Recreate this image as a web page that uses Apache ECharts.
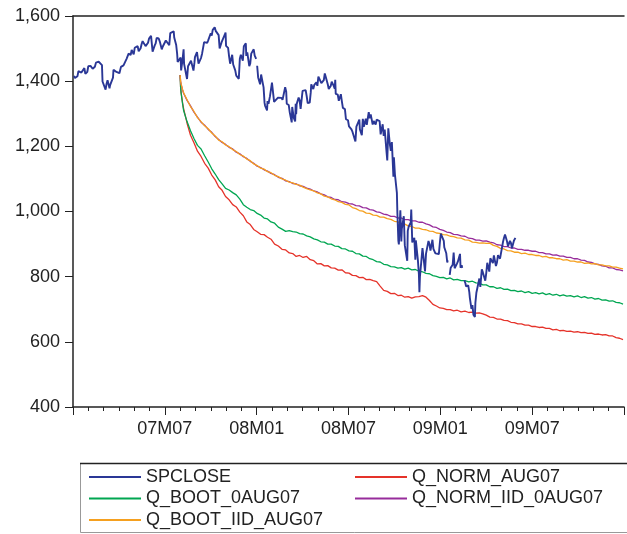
<!DOCTYPE html>
<html><head><meta charset="utf-8">
<script src="https://cdn.jsdelivr.net/npm/echarts@6/dist/echarts.min.js"></script>
<style>html,body{margin:0;padding:0;background:#fff}#c{width:627px;height:534px}</style>
</head><body><div id="c"></div><script>
// ---------------- DATA ----------------
const spDates = [
'2007-01-03','2007-01-05','2007-01-08','2007-01-10','2007-01-12','2007-01-16','2007-01-18','2007-01-22','2007-01-24','2007-01-26','2007-01-30',
'2007-02-01','2007-02-05','2007-02-07','2007-02-09','2007-02-13','2007-02-15','2007-02-20','2007-02-22','2007-02-26','2007-02-27',
'2007-03-01','2007-03-05','2007-03-07','2007-03-09','2007-03-13','2007-03-14','2007-03-16','2007-03-20','2007-03-21','2007-03-23','2007-03-27','2007-03-29',
'2007-04-02','2007-04-05','2007-04-10','2007-04-12','2007-04-16','2007-04-18','2007-04-20','2007-04-24','2007-04-26','2007-04-30',
'2007-05-02','2007-05-04','2007-05-08','2007-05-10','2007-05-14','2007-05-16','2007-05-18','2007-05-22','2007-05-24','2007-05-29','2007-05-31',
'2007-06-04','2007-06-07','2007-06-11','2007-06-13','2007-06-15','2007-06-19','2007-06-21','2007-06-25','2007-06-27','2007-06-29',
'2007-07-03','2007-07-06','2007-07-10','2007-07-12','2007-07-16','2007-07-19','2007-07-20','2007-07-24','2007-07-26','2007-07-27','2007-07-31',
'2007-08-02','2007-08-03','2007-08-06','2007-08-08','2007-08-09','2007-08-13','2007-08-15','2007-08-16','2007-08-17','2007-08-21','2007-08-23','2007-08-27','2007-08-28','2007-08-30','2007-08-31',
'2007-09-04','2007-09-07','2007-09-10','2007-09-12','2007-09-14','2007-09-18','2007-09-20','2007-09-24','2007-09-26','2007-09-28',
'2007-10-01','2007-10-03','2007-10-05','2007-10-09','2007-10-11','2007-10-15','2007-10-17','2007-10-19','2007-10-23','2007-10-25','2007-10-29','2007-10-31',
'2007-11-01','2007-11-05','2007-11-07','2007-11-09','2007-11-13','2007-11-15','2007-11-19','2007-11-21','2007-11-26','2007-11-28','2007-11-30',
'2007-12-04','2007-12-06','2007-12-10','2007-12-11','2007-12-13','2007-12-17','2007-12-19','2007-12-21','2007-12-26','2007-12-28','2007-12-31',
'2008-01-01','2008-01-02','2008-01-04','2008-01-08','2008-01-10','2008-01-14','2008-01-15','2008-01-17','2008-01-18','2008-01-22','2008-01-23','2008-01-25','2008-01-28','2008-01-30',
'2008-02-01','2008-02-05','2008-02-07','2008-02-08','2008-02-12','2008-02-14','2008-02-19','2008-02-21','2008-02-26','2008-02-28','2008-02-29',
'2008-03-04','2008-03-06','2008-03-10','2008-03-11','2008-03-13','2008-03-14','2008-03-17','2008-03-18','2008-03-19','2008-03-20','2008-03-24','2008-03-26','2008-03-28',
'2008-04-01','2008-04-03','2008-04-07','2008-04-09','2008-04-11','2008-04-15','2008-04-17','2008-04-18','2008-04-22','2008-04-24','2008-04-28','2008-04-30',
'2008-05-02','2008-05-06','2008-05-08','2008-05-09','2008-05-13','2008-05-15','2008-05-19','2008-05-21','2008-05-23','2008-05-27','2008-05-29',
'2008-06-02','2008-06-04','2008-06-05','2008-06-06','2008-06-10','2008-06-12','2008-06-16','2008-06-18','2008-06-20','2008-06-24','2008-06-26','2008-06-30',
'2008-07-02','2008-07-07','2008-07-09','2008-07-11','2008-07-15','2008-07-17','2008-07-21','2008-07-23','2008-07-24','2008-07-28','2008-07-30',
'2008-08-01','2008-08-05','2008-08-07','2008-08-11','2008-08-13','2008-08-15','2008-08-19','2008-08-21','2008-08-25','2008-08-27','2008-08-29',
'2008-09-02','2008-09-04','2008-09-08','2008-09-10','2008-09-12','2008-09-15','2008-09-17','2008-09-19','2008-09-22','2008-09-24','2008-09-26','2008-09-29','2008-09-30',
'2008-10-02','2008-10-06','2008-10-07','2008-10-09','2008-10-10','2008-10-13','2008-10-15','2008-10-16','2008-10-20','2008-10-22','2008-10-24','2008-10-27','2008-10-28','2008-10-30',
'2008-11-03','2008-11-04','2008-11-06','2008-11-10','2008-11-12','2008-11-13','2008-11-17','2008-11-19','2008-11-20','2008-11-21','2008-11-24','2008-11-26',
'2008-12-01','2008-12-03','2008-12-05','2008-12-08','2008-12-10','2008-12-12','2008-12-16','2008-12-18','2008-12-22','2008-12-26','2008-12-29','2008-12-31',
'2009-01-02','2009-01-06','2009-01-08','2009-01-09','2009-01-13','2009-01-15','2009-01-16','2009-01-19','2009-01-20','2009-01-22','2009-01-26','2009-01-28','2009-01-30',
'2009-02-03','2009-02-05','2009-02-09','2009-02-10','2009-02-12','2009-02-13','2009-02-16','2009-02-17','2009-02-19','2009-02-20','2009-02-24','2009-02-26','2009-02-27',
'2009-03-02','2009-03-04','2009-03-06','2009-03-09','2009-03-10','2009-03-12','2009-03-16','2009-03-18','2009-03-20','2009-03-23','2009-03-25','2009-03-27','2009-03-30',
'2009-04-01','2009-04-03','2009-04-07','2009-04-09','2009-04-14','2009-04-16','2009-04-20','2009-04-22','2009-04-24','2009-04-28','2009-04-30',
'2009-05-04','2009-05-06','2009-05-08','2009-05-12','2009-05-14','2009-05-18','2009-05-20','2009-05-22','2009-05-26','2009-05-28','2009-05-29'
];
const spClose = [
1416.6,1409.7,1412.8,1414.9,1430.7,1431.9,1426.4,1422.9,1440.1,1422.2,1428.8,
1445.9,1447.0,1450.0,1438.1,1444.3,1456.8,1459.7,1456.4,1449.4,1399.0,
1403.2,1374.1,1392.0,1402.8,1378.0,1387.2,1387.0,1410.9,1435.0,1436.1,1428.4,1422.5,
1424.6,1443.8,1448.4,1447.8,1468.5,1471.5,1484.4,1480.4,1495.6,1482.4,
1502.4,1505.6,1507.7,1491.5,1501.2,1514.1,1522.8,1524.1,1507.5,1518.1,1530.6,
1539.2,1490.7,1509.1,1515.7,1532.9,1531.1,1522.2,1497.7,1506.3,1503.4,
1524.9,1530.4,1510.1,1547.7,1549.5,1553.1,1534.1,1511.0,1482.7,1459.0,1455.3,
1472.2,1433.1,1467.7,1497.5,1453.1,1452.9,1406.7,1411.3,1445.9,1447.1,1462.5,1466.8,1432.4,1457.6,1474.0,
1489.4,1453.6,1451.7,1471.6,1484.3,1519.8,1518.8,1517.7,1525.4,1526.8,
1547.0,1539.6,1557.6,1565.2,1554.4,1548.7,1541.2,1500.6,1519.6,1514.4,1541.0,1549.4,
1508.4,1502.2,1475.6,1453.7,1481.1,1451.2,1433.3,1416.8,1407.2,1469.0,1481.1,
1462.8,1507.3,1516.0,1477.7,1488.4,1445.9,1454.7,1484.5,1497.7,1478.5,1468.4,
null,1447.2,1411.6,1390.2,1420.3,1416.3,1381.0,1333.3,1325.2,1310.5,1338.6,1330.6,1354.0,1355.8,
1395.4,1336.6,1336.9,1331.3,1348.9,1348.9,1348.8,1342.5,1381.3,1367.7,1330.6,
1326.8,1304.3,1273.4,1320.7,1315.5,1288.1,1276.6,1330.7,1298.4,1329.5,1349.9,1341.1,1315.2,
1370.2,1369.3,1372.5,1354.5,1332.8,1334.4,1365.6,1390.3,1375.9,1388.8,1396.4,1385.6,
1413.9,1418.0,1394.0,1388.3,1403.0,1423.6,1426.6,1390.7,1375.9,1385.4,1398.3,
1385.7,1377.2,1404.1,1360.7,1358.4,1339.9,1360.1,1337.8,1317.9,1314.3,1283.2,1280.0,
1261.5,1252.3,1244.7,1239.5,1214.9,1260.3,1260.0,1282.2,1252.5,1234.4,1284.3,
1260.3,1284.9,1266.1,1305.3,1285.8,1298.2,1266.7,1277.7,1266.8,1281.7,1282.8,
1277.6,1236.8,1267.8,1232.0,1251.7,1192.7,1156.4,1255.1,1207.1,1185.9,1213.3,1106.4,1166.4,
1114.3,1056.9,996.2,909.9,899.2,1003.4,907.8,946.4,985.4,896.8,876.8,848.9,940.5,954.1,
966.3,1005.8,904.9,919.2,852.3,911.3,850.8,806.6,752.4,800.0,851.8,887.7,
816.2,870.7,876.1,909.7,899.2,879.7,913.2,885.3,871.6,872.8,869.4,903.3,
931.8,934.7,909.7,890.4,871.8,843.7,850.1,null,805.2,827.5,836.6,874.1,825.9,
838.5,845.9,869.9,827.2,835.2,826.8,null,789.2,778.9,770.1,773.1,752.8,735.1,
700.8,712.9,683.4,676.5,719.6,750.7,753.9,794.4,768.5,822.9,813.9,815.9,787.5,
811.1,842.5,815.6,856.6,841.5,865.3,832.4,843.5,866.2,855.2,872.8,
907.2,919.5,929.2,908.4,893.1,909.7,903.5,887.0,910.3,906.8,919.1
];

// forecast dates: first days, then weekly (Wednesdays) from 2007-08-08
const fcFirstDates = ['2007-08-01','2007-08-02','2007-08-03','2007-08-06'];
const fcWeeklyStart = '2007-08-08';
const fcWeeklyCount = 126;

const qNormAug07 = [
1419,1381,1365,1333,
1316,1271,1234,1211,1185,1169,1148,1133,1112,1097,
1076,1065,1046,1036,1021,1014,998,987,968,960,
945,938,930,929,921,915,900,894,884,882,
873,871,862,865,859,862,852,849,839,840,
833,834,827,826,820,821,812,811,804,803,
797,798,791,792,788,785,771,758,755,748,
749,742,743,737,739,734,738,739,742,737,
727,715,710,704,703,699,699,695,697,692,
694,690,691,688,689,686,682,676,675,670,
670,666,665,660,659,655,655,651,651,647,
647,644,645,641,641,637,638,634,635,632,
633,630,631,628,629,626,627,623,624,621,
622,618,618,613,611,607
];
const qBoot0Aug07 = [
1419,1380,1363,1330,
1310,1276,1248,1224,1203,1192,1171,1152,1131,1115,
1098,1085,1071,1066,1058,1051,1038,1021,1013,1006,
1003,994,989,980,977,968,964,952,946,939,
941,938,937,932,931,925,922,916,913,907,
906,900,900,894,893,886,885,879,878,871,
870,863,862,855,852,846,845,838,836,831,
830,826,828,823,826,821,822,817,815,810,
809,803,801,797,798,793,796,790,792,788,
788,784,786,781,780,775,775,769,769,764,
766,761,762,757,758,754,756,751,754,749,
751,747,750,745,748,743,746,741,744,740,
742,738,741,736,739,734,736,731,733,728,
729,725,726,721,720,716
];
const qNormIid0Aug07 = [
1419,1398,1390,1373,
1363,1341,1324,1305,1290,1274,1265,1252,1243,1230,
1221,1212,1206,1197,1192,1182,1177,1168,1163,1154,
1148,1139,1135,1128,1124,1117,1113,1105,1102,1094,
1092,1086,1085,1079,1077,1072,
1069,1063,1060,1054,1051,1045,1043,1037,1036,1030,
1029,1024,1023,1018,1017,1012,1011,1006,1004,999,
997,992,990,985,985,980,980,975,975,971,
971,967,967,962,959,953,951,945,942,937,
935,930,929,925,924,918,917,912,912,909,
910,906,904,898,897,892,892,888,888,884,
884,881,881,878,878,874,874,870,870,866,
867,863,863,859,859,855,855,851,850,845,
844,839,838,833,832,827,827,822,821,818
];
const qBootIidAug07 = [
1419,1399,1391,1374,
1364,1343,1322,1307,1288,1276,1263,1254,1241,1232,
1219,1214,1204,1199,1190,1184,1175,1170,1161,1156,
1146,1141,1133,1130,1122,1119,1111,1107,1100,1096,
1090,1088,1083,1081,1075,1070,
1066,1063,1057,1054,1047,1045,1039,1036,1030,1028,
1022,1020,1012,1009,1003,1001,995,994,989,988,
983,983,978,976,970,968,963,961,956,954,
949,949,945,944,940,939,934,933,929,928,
924,923,919,918,913,912,906,905,903,904,
902,903,896,893,887,885,880,879,875,875,
871,872,868,868,865,865,861,862,858,858,
855,855,851,852,848,848,845,845,841,842,
839,840,836,836,833,833,829,829,826,824
];

const seriesNames = ['SPCLOSE','Q_NORM_AUG07','Q_BOOT_0AUG07','Q_NORM_IID_0AUG07','Q_BOOT_IID_AUG07'];
const seriesColors = ['#2a3796','#e5332a','#00a651','#972c9b','#f5a01f'];
const yMin = 400, yMax = 1600, yStep = 200;
const xTickMonths = [6,12,18,24,30];           // months since 2007M01
const xTickLabels = ['07M07','08M01','08M07','09M01','09M07'];

// ---------------- HELPERS ----------------
function monthIndex(s){
  const p = s.split('-').map(Number);
  const dim = new Date(Date.UTC(p[0], p[1], 0)).getUTCDate();
  return (p[0]-2007)*12 + (p[1]-1) + (p[2]-1)/dim;
}
function weeklyDates(start, n){
  const out = [], t0 = Date.parse(start + 'T00:00:00Z');
  for (let i = 0; i < n; i++) out.push(new Date(t0 + i*7*864e5).toISOString().slice(0,10));
  return out;
}
const fcDates = fcFirstDates.concat(weeklyDates(fcWeeklyStart, fcWeeklyCount));
function pairs(dates, vals){
  return dates.map((d,i) => [monthIndex(d), (vals[i] === null || vals[i] === undefined) ? '-' : vals[i]]);
}
const FONT = 'Liberation Sans, Arial, Helvetica, sans-serif';
const TXT = '#222';

const seriesData = [
  pairs(spDates, spClose),
  pairs(fcDates, qNormAug07),
  pairs(fcDates, qBoot0Aug07),
  pairs(fcDates, qNormIid0Aug07),
  pairs(fcDates, qBootIidAug07)
];

const chart = echarts.init(document.getElementById('c'), null, {renderer:'canvas'});
const legendCommon = {
  orient:'vertical', top: 468, padding: 0, itemWidth: 52, itemHeight: 18, itemGap: 3.5,
  height: 66, selectedMode:false,
  icon: 'path://M0,0H52V2H0Z',
  textStyle:{fontSize:18, color:TXT, fontFamily:FONT, lineHeight:18}
};
chart.setOption({
  animation:false,
  backgroundColor:'#fff',
  grid:{left:73, top:16, width:558, height:391},
  xAxis:[{
    type:'value', min:0, max:36, interval:6,
    axisLine:{onZero:false, lineStyle:{color:'#222', width:1.5}},
    axisTick:{show:true, length:8, lineStyle:{color:'#222', width:1}},
    minorTick:{show:true, splitNumber:6, length:4, lineStyle:{color:'#222', width:1}},
    splitLine:{show:false},
    axisLabel:{margin:13, fontSize:18, color:TXT, fontFamily:FONT,
      formatter: v => { const i = xTickMonths.indexOf(Math.round(v)); return i >= 0 ? xTickLabels[i] : ''; }}
  },{
    type:'value', position:'top', min:0, max:36,
    axisLine:{show:true, onZero:false, lineStyle:{color:'#222', width:1.5}},
    axisTick:{show:false}, axisLabel:{show:false}, splitLine:{show:false}
  }],
  yAxis:{
    type:'value', min:yMin, max:yMax, interval:yStep,
    axisLine:{show:true, lineStyle:{color:'#222', width:1.5}},
    axisTick:{show:true, length:8, lineStyle:{color:'#222', width:1}},
    splitLine:{show:false},
    axisLabel:{margin:13, fontSize:18, color:TXT, fontFamily:FONT,
      formatter: v => String(v).replace(/\B(?=(\d{3})+(?!\d))/g, ',')}
  },
  legend:[
    Object.assign({left:89, data:[seriesNames[0], seriesNames[2], seriesNames[4]]}, legendCommon),
    Object.assign({left:355, data:[seriesNames[1], seriesNames[3]]}, legendCommon)
  ],
  graphic:[
    {type:'rect', z:-1, shape:{x:80.5, y:463.5, width:600, height:69}, style:{fill:'none', stroke:'#999', lineWidth:1}},
    {type:'line', shape:{x1:80, y1:463.5, x2:627, y2:463.5}, style:{stroke:'#222', lineWidth:1.5}}
  ],
  series: seriesNames.map((n,i) => ({
    name:n, type:'line', data:seriesData[i], showSymbol:false, symbol:'none',
    connectNulls:false, clip:true, z: i === 0 ? 10 : 2 + i,
    color: seriesColors[i],
    lineStyle:{color:seriesColors[i], width: i === 0 ? 1.9 : 1.3},
    itemStyle:{color:seriesColors[i]}
  }))
});
</script></body></html>
